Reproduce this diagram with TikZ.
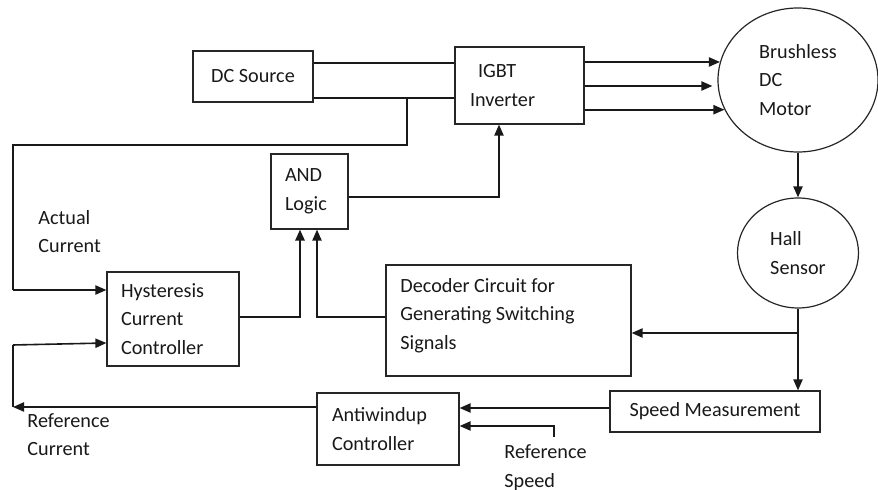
\documentclass[tikz,border=0pt]{standalone}
\usepackage{fontspec}
\setmainfont{Carlito}
\usetikzlibrary{arrows.meta,shapes.geometric,calc}

\tikzset{
  ink/.style={draw=black!85, text=black!90},
  box/.style={ink, rectangle, line width=0.6pt, inner sep=0pt},
  lbox/.style={box, align=left, inner ysep=0pt},
  oval/.style={ink, ellipse, line width=0.6pt, inner sep=0pt, align=left},
  wire/.style={draw=black!90, line width=0.8pt},
  heavy/.style={draw=black!90, line width=1.1pt},
  arr/.style={wire, -{Triangle[length=5.5pt,width=4.6pt]}},
  harr/.style={heavy, -{Triangle[length=5.5pt,width=4.6pt]}},
  lbl/.style={text=black!90, align=left, inner sep=0pt, anchor=west},
}

\begin{document}
\begin{tikzpicture}[x=0.5pt,y=-0.5pt,
  every node/.style={font=\fontsize{10.1}{14.3}\selectfont}]
\useasboundingbox (0,0) rectangle (878,490);

% blocks
\node[box, minimum width=60pt, minimum height=25.5pt] (dc) at (253,76.5) {DC Source};
\node[lbox, minimum height=38.5pt, text width=49.5pt, inner xsep=7.5pt] (igbt) at (519.5,85.5)
  {\hspace*{4pt}IGBT\\Inverter};
\node[oval, minimum width=80pt, minimum height=72pt] (motor) at (798,80) {Brushless\\DC\\Motor};
\node[oval, minimum width=60.5pt, minimum height=55pt] (hall) at (798,253) {Hall\\Sensor};
\node[lbox, minimum height=37.5pt, text width=24.5pt, inner xsep=7pt] (and) at (309.5,191.5) {AND\\Logic};
\node[lbox, minimum height=47pt, text width=52pt, inner xsep=7pt] (hyst) at (173,319)
  {Hysteresis\\Current\\Controller};
\node[box, minimum width=122.5pt, minimum height=55.5pt] (dec) at (508.5,320.5) {};
\node[lbl] (dect) at (400,315.5) {Decoder Circuit for\\Generating Switching\\Signals};
\node[box, minimum width=105pt, minimum height=20.5pt] (speed) at (715,411.5) {Speed Measurement};
\node[lbox, minimum height=36pt, text width=56pt, inner xsep=7.5pt] (aw) at (388,429)
  {Antiwindup\\Controller};

% free labels
\node[lbl] (actl) at (38,231.5) {Actual\\Current};
\node[lbl] (refcl) at (27,434.5) {Reference\\Current};
\node[lbl] (refsl) at (504,468) {Reference\\Speed};

% junctions and free ends
\coordinate (tap) at (407,98);
\coordinate (fbl) at (13,145);
\coordinate (rcl) at (13,407);
\coordinate (br) at (798,333);
\coordinate (rs) at (554,437);

% DC link
\draw[wire] (dc.east |- 0,63) -- (igbt.west |- 0,63);
\draw[wire] (dc.east |- tap) -- (igbt.west |- tap);

% inverter phases to motor
\draw[arr] (igbt.east |- motor.167) -- (motor.167);
\draw[arr] (igbt.east |- 0,86) -- ($(motor.west)+(-5,6)$);
\draw[arr] (igbt.east |- motor.202) -- (motor.202);

% motor -> hall sensor -> speed / decoder
\draw[arr] (motor.south) -- (hall.north);
\draw[arr] (hall.south) -- (hall.south |- speed.north);
\draw[arr] (br) -- (dec.east |- br);

% current feedback
\draw[heavy] (tap) -- (tap |- fbl) -- (fbl) -- (fbl |- 0,290);
\draw[arr] (fbl |- 0,290) -- (hyst.west |- 0,290);

% gate signal path
\draw[harr] (hyst.east |- 0,317) -| ($(and.south)+(-9.5,0)$);
\draw[arr] (dec.west |- 0,317) -| ($(and.south)+(7.5,0)$);
\draw[arr] (and.east |- 0,197) -| ($(igbt.south)+(-20.5,0)$);

% speed loop
\draw[arr] (speed.west |- 0,408) -- (aw.east |- 0,408);
\draw[arr] (rs) -- (rs |- 0,426) -- (aw.east |- 0,426);
\draw[arr] (aw.west |- rcl) -- (rcl);
\draw[wire] (rcl) -- (13,345);
\draw[arr] (13,345) -- (hyst.west |- 0,343);

\end{tikzpicture}
\end{document}
